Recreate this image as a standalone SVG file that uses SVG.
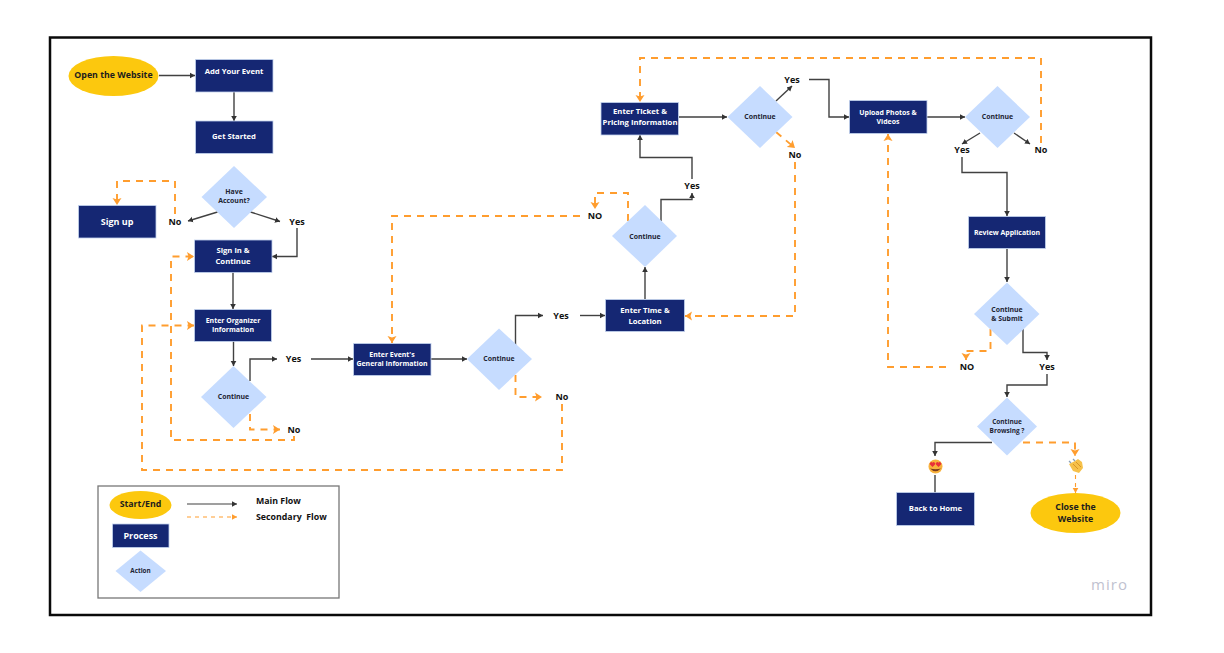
<svg xmlns="http://www.w3.org/2000/svg" width="1224" height="653" viewBox="0 0 1224 653">
<style>
text{font-family:"Open Sans","Noto Sans","Liberation Sans",sans-serif;font-weight:700;text-anchor:middle;dominant-baseline:central;transform:translateY(-.7px)}
.p{fill:#152773;stroke:#c3d3ee;stroke-width:.8}
.s{fill:#fcc80e}
.d{fill:#c6dcff}
.pt{fill:#fff;font-size:7.700px}
.ps{fill:#fff;font-size:6.950px}
.dt{fill:#1d2433;font-size:6.900px}
.st{fill:#1d1d1d;font-size:8.800px}
.l{fill:#111;font-size:9px}
.m{fill:none;stroke:#414141;stroke-width:1.4;marker-end:url(#am)}
.m0{fill:none;stroke:#414141;stroke-width:1.4}
.o{fill:none;stroke:#ff9d2e;stroke-width:1.9;stroke-dasharray:7 6;marker-end:url(#ao)}
.ot{fill:none;stroke:#ff9d2e;stroke-width:1.100;stroke-dasharray:4 4;marker-end:url(#ao2)}
</style>
<defs>
<marker id="am" markerUnits="userSpaceOnUse" markerWidth="6" markerHeight="7" refX="5" refY="3.500" orient="auto"><path d="M0 .7L5 3.500L0 6.300z" fill="#333"/></marker>
<marker id="ao" markerUnits="userSpaceOnUse" markerWidth="8" markerHeight="10" refX="7" refY="5" orient="auto"><path d="M0 .5L7 5L0 9.500L1.500 5z" fill="#ff9d2e"/></marker>
<marker id="ao2" markerUnits="userSpaceOnUse" markerWidth="6" markerHeight="7" refX="5" refY="3.500" orient="auto"><path d="M0 .7L5 3.500L0 6.300z" fill="#ff9d2e"/></marker>
</defs>
<rect width="1224" height="653" fill="#fff"/>
<rect x="50" y="37.500" width="1101" height="577.500" fill="#fff" stroke="#0a0a0a" stroke-width="2.500"/>

<g id="connectors">
<path class="m" d="M159 75.500H195"/>
<path class="m" d="M234 92V121"/>
<path class="m" d="M217.500 212L188 221"/>
<path class="m" d="M250.500 212L280 221.500"/>
<path class="m" d="M297 228V256.500H272"/>
<path class="m" d="M233 272V309"/>
<path class="m" d="M233.500 341V366"/>
<path class="m" d="M250 381V359H277"/>
<path class="m" d="M311 359H353"/>
<path class="m" d="M431 359H467"/>
<path class="m" d="M515.500 345V315.500H543"/>
<path class="m" d="M580 315.500H605"/>
<path class="m" d="M645 299V267"/>
<path class="m" d="M661 221V199.500H692V193"/>
<path class="m" d="M692 179V157.500H640V135"/>
<path class="m" d="M679 117H727"/>
<path class="m" d="M776 101L792 86"/>
<path class="m" d="M809 79.500H829V117H849"/>
<path class="m" d="M927 117H965"/>
<path class="m" d="M980 133L962 144"/>
<path class="m" d="M1014 133L1030 144"/>
<path class="m" d="M962 157V172.500H1007V216"/>
<path class="m" d="M1007 249V282"/>
<path class="m" d="M1023 329V352.500H1047V360"/>
<path class="m" d="M1047 374V385H1007V397"/>
<path class="m" d="M992 442.500H935V456"/>
<path class="m0" d="M935 475V493"/>
<path class="o" d="M175 214V181H117V205"/>
<path class="o" d="M250 414V429.500H280"/>
<path class="o" d="M294 436V440H171V256.500H194"/>
<path class="o" d="M562 404V470H142V325.500H194"/>
<path class="o" d="M515.500 375V397H542"/>
<path class="o" d="M628 221V193H595V209"/>
<path class="o" d="M580 216H392V343"/>
<path class="o" d="M776 132L795 148"/>
<path class="o" d="M795 162V316H685"/>
<path class="o" d="M1041 143V58H640V102"/>
<path class="o" d="M990.500 329V351H966V360"/>
<path class="o" d="M946 367H888V134"/>
<path class="o" d="M1023 442.500H1075V456"/>
<path class="ot" d="M1075.500 475V493"/>
</g>

<g id="open-website"><ellipse class="s" cx="113.500" cy="76" rx="45" ry="20"/><text class="st" x="113.500" y="76">Open the Website</text></g>
<g id="add-event"><rect class="p" x="195.500" y="59.500" width="77.500" height="32.500"/><text class="pt" x="234" y="72">Add Your Event</text></g>
<g id="get-started"><rect class="p" x="195.500" y="121" width="77.500" height="32.500"/><text class="pt" x="234" y="137">Get Started</text></g>
<g id="have-account"><path class="d" d="M234 166L267 197L234 228L201.500 197z"/><text class="dt" x="234" y="192.500">Have</text><text class="dt" x="234" y="201.500">Account?</text></g>
<g id="sign-up"><rect class="p" x="78.500" y="205.500" width="77.500" height="32.500"/><text class="pt" style="font-size:9px" x="117" y="222.500">Sign up</text></g>
<g id="sign-in"><rect class="p" x="194.500" y="240" width="77.500" height="32.500"/><text class="pt" x="233" y="251">Sign in &amp;</text><text class="pt" x="233" y="262">Continue</text></g>
<g id="organizer"><rect class="p" x="194.500" y="309.500" width="77" height="32"/><text class="ps" x="233" y="321">Enter Organizer</text><text class="ps" x="233" y="330.500">Information</text></g>
<g id="continue-1"><path class="d" d="M233.500 366L266.500 397L233.500 428L201 397z"/><text class="dt" x="233.500" y="397">Continue</text></g>
<g id="general-info"><rect class="p" x="353.500" y="343.500" width="77.500" height="32"/><text class="ps" x="392" y="355.500">Enter Event's</text><text class="ps" x="392" y="364">General Information</text></g>
<g id="continue-2"><path class="d" d="M499 328.500L532 359L499 390L467 359z"/><text class="dt" x="499" y="359">Continue</text></g>
<g id="time-location"><rect class="p" x="605.500" y="299.500" width="79" height="32"/><text class="pt" x="645" y="310.500">Enter Time &amp;</text><text class="pt" x="645" y="321.500">Location</text></g>
<g id="continue-3"><path class="d" d="M645 205L677 236L645 267L612 236z"/><text class="dt" x="645" y="237">Continue</text></g>
<g id="ticket"><rect class="p" x="601" y="102.500" width="77.500" height="32.500"/><text class="pt" x="640" y="112">Enter Ticket &amp;</text><text class="pt" x="640" y="123">Pricing Information</text></g>
<g id="continue-4"><path class="d" d="M760 86L792.500 117L760 148L727.500 117z"/><text class="dt" x="760" y="117.500">Continue</text></g>
<g id="upload"><rect class="p" x="849.500" y="100.500" width="77.500" height="33"/><text class="ps" x="888" y="113">Upload Photos &amp;</text><text class="ps" x="888" y="122.500">Videos</text></g>
<g id="continue-5"><path class="d" d="M997.500 86L1030 117L997.500 148L965 117z"/><text class="dt" x="997.500" y="117.500">Continue</text></g>
<g id="review"><rect class="p" x="968.500" y="216.500" width="77" height="32"/><text class="ps" x="1007" y="233">Review Application</text></g>
<g id="continue-submit"><path class="d" d="M1007 282.500L1039.500 314L1007 345L974 314z"/><text class="dt" x="1007" y="310">Continue</text><text class="dt" x="1007" y="319">&amp; Submit</text></g>
<g id="continue-browsing"><path class="d" d="M1007 397.500L1037 426.500L1007 455.500L977 426.500z"/><text class="dt" style="font-size:6.500px" x="1007" y="422">Continue</text><text class="dt" style="font-size:6.500px" x="1007" y="431.500">Browsing ?</text></g>
<g id="back-home"><rect class="p" x="896.500" y="492.500" width="78" height="33"/><text class="pt" x="935.500" y="509">Back to Home</text></g>
<g id="close-website"><ellipse class="s" cx="1075.500" cy="513" rx="45" ry="20"/><text class="st" x="1075.500" y="507.500">Close the</text><text class="st" x="1075.500" y="520">Website</text></g>

<g id="labels">
<text class="l" x="175" y="222">No</text>
<text class="l" x="297" y="222">Yes</text>
<text class="l" x="293.500" y="359.500">Yes</text>
<text class="l" x="294" y="430">No</text>
<text class="l" x="561" y="316.500">Yes</text>
<text class="l" x="562" y="397.500">No</text>
<text class="l" x="595" y="216.500">NO</text>
<text class="l" x="692" y="186.500">Yes</text>
<text class="l" x="792" y="80">Yes</text>
<text class="l" x="795" y="155.500">No</text>
<text class="l" x="962" y="150.500">Yes</text>
<text class="l" x="1041" y="150.500">No</text>
<text class="l" x="967" y="367.500">NO</text>
<text class="l" x="1047" y="367.500">Yes</text>
</g>

<g id="emoji-love">
<circle cx="935.500" cy="466.500" r="7" fill="#f8b23c"/>
<path d="M930 468.500Q935.500 474 941 468.500Q935.500 470 930 468.500z" fill="#7a3a1a"/>
<path d="M932.500 467L930 464.500A1.500 1.500 0 0 1 932.500 462.800A1.500 1.500 0 0 1 935 464.500z" fill="#e8303a"/>
<path d="M938.500 467L936 464.500A1.500 1.500 0 0 1 938.500 462.800A1.500 1.500 0 0 1 941 464.500z" fill="#e8303a"/>
</g>
<g id="emoji-wave">
<path d="M1069 464L1075 461L1078 459L1082 462L1083 468L1079 473L1073 471z" fill="#f6c14a"/>
<path d="M1069 461L1071 463M1073 459L1075 461" stroke="#8aa0b8" stroke-width="1.200"/>
<path d="M1073 464L1078 469M1076 462L1081 467" stroke="#d08a20" stroke-width=".8"/>
</g>

<g id="legend">
<rect x="98" y="486" width="241" height="112" fill="none" stroke="#777" stroke-width="1.300"/>
<ellipse class="s" cx="140.500" cy="505" rx="31" ry="14"/><text class="st" x="140.500" y="505">Start/End</text>
<rect class="p" x="112.500" y="524" width="56.500" height="23.500"/><text class="pt" style="font-size:9px" x="140.500" y="536">Process</text>
<path class="d" d="M140.500 550.500L166 571L140.500 592L115.500 571z"/><text class="dt" style="font-size:6.300px" x="140.500" y="571.500">Action</text>
<path class="m" style="stroke-width:1.100" d="M187 504H237"/>
<path class="ot" d="M187 517H237"/>
<text class="l" x="256" y="502" style="text-anchor:start;font-size:8.800px">Main Flow</text>
<text class="l" x="256" y="518" style="text-anchor:start;font-size:8.800px" xml:space="preserve">Secondary  Flow</text>
</g>

<text x="1109.500" y="585" style="font-size:15px;font-weight:400;fill:#bfc2d0;letter-spacing:1px">miro</text>
</svg>
